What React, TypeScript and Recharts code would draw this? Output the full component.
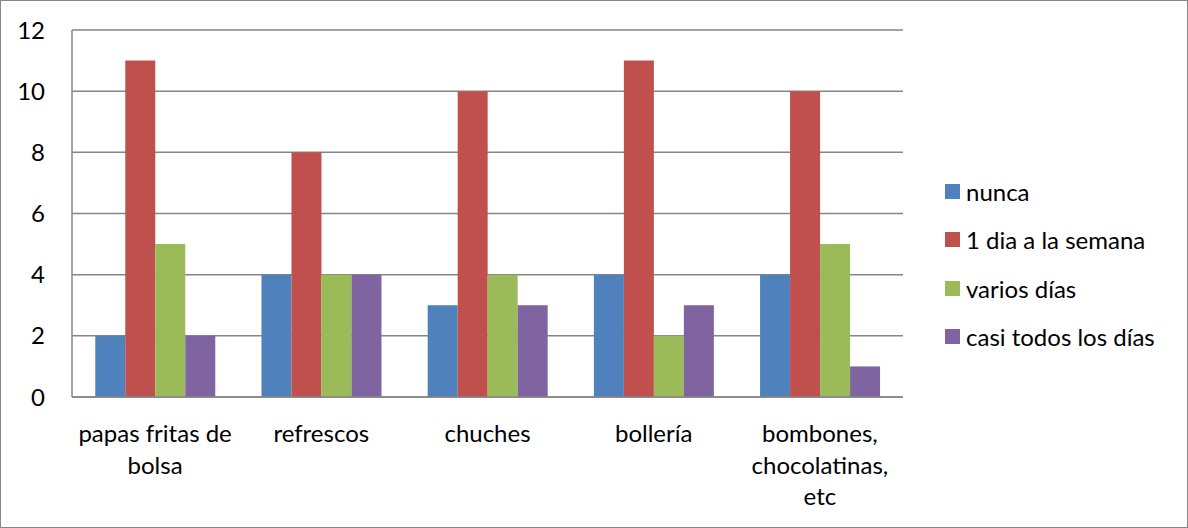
import { BarChart, Bar, XAxis, YAxis, CartesianGrid, Legend } from "recharts";

const categories = [
  "papas fritas de\nbolsa",
  "refrescos",
  "chuches",
  "bollería",
  "bombones,\nchocolatinas,\netc",
];
const nunca = [2, 4, 3, 4, 4];
const unDia = [11, 8, 10, 11, 10];
const variosDias = [5, 4, 4, 2, 5];
const casiTodos = [2, 4, 3, 3, 1];
const yTicks = [0, 2, 4, 6, 8, 10, 12];

const series = [
  { key: "nunca", name: "nunca", color: "#4F81BD", values: nunca },
  { key: "unDia", name: "1 dia a la semana", color: "#C0504D", values: unDia },
  { key: "varios", name: "varios días", color: "#9BBB59", values: variosDias },
  { key: "casi", name: "casi todos los días", color: "#8064A2", values: casiTodos },
];

const data = categories.map((name, i) => {
  const row: Record<string, string | number> = { name };
  series.forEach((s) => (row[s.key] = s.values[i]));
  return row;
});

const FONT = "Lato, 'Noto Sans', sans-serif";
const FS = 24;

function CategoryTick(props: any) {
  const { x, y, payload } = props;
  const lines = String(payload.value).split("\n");
  return (
    <text x={x} y={y} textAnchor="middle" fill="#000" fontSize={FS} fontFamily={FONT}>
      {lines.map((l, i) => (
        <tspan key={i} x={x} dy={i === 0 ? 37 : 31.5}>
          {l}
        </tspan>
      ))}
    </text>
  );
}

function LegendBox() {
  return (
    <div style={{ width: 240, paddingLeft: 42, boxSizing: "border-box", fontFamily: FONT }}>
      {series.map((s) => (
        <div key={s.key} style={{ height: 48.5, display: "flex", alignItems: "center" }}>
          <span style={{ width: 15, height: 15, background: s.color, marginRight: 6, flex: "none" }} />
          <span style={{ fontSize: FS, color: "#000", whiteSpace: "nowrap" }}>{s.name}</span>
        </div>
      ))}
    </div>
  );
}

export default function App() {
  return (
    <div
      style={{
        position: "absolute",
        left: 0,
        top: 0,
        width: 1188,
        height: 528,
        boxSizing: "border-box",
        border: "1px solid #868686",
        background: "#fff",
      }}
    >
      <div style={{ position: "absolute", left: -1, top: -1 }}>
        <BarChart
          width={1188}
          height={528}
          data={data}
          margin={{ top: 30, right: 45, bottom: 0, left: 0 }}
          barGap={0}
          barCategoryGap="14%"
        >
          <CartesianGrid vertical={false} stroke="#868686" strokeWidth={1.5} />
          <XAxis
            dataKey="name"
            height={131}
            interval={0}
            tickLine={false}
            axisLine={{ stroke: "#868686", strokeWidth: 1.5 }}
            tick={<CategoryTick />}
          />
          <YAxis
            width={72}
            domain={[0, 12]}
            ticks={yTicks}
            tickSize={0}
            tickMargin={27}
            tickLine={false}
            axisLine={{ stroke: "#868686", strokeWidth: 1.5 }}
            tick={{ fill: "#000", fontSize: FS, fontFamily: FONT }}
          />
          <Legend
            layout="vertical"
            align="right"
            verticalAlign="middle"
            content={() => <LegendBox />}
            wrapperStyle={{ top: 167 }}
          />
          {series.map((s) => (
            <Bar
              key={s.key}
              dataKey={s.key}
              name={s.name}
              fill={s.color}
              isAnimationActive={false}
            />
          ))}
        </BarChart>
      </div>
    </div>
  );
}
